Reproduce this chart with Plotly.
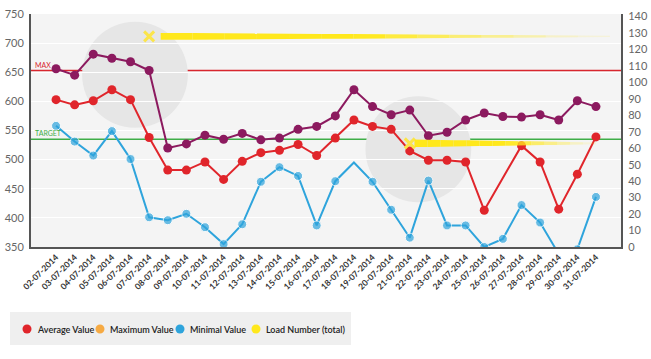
import plotly.graph_objects as go

dates = ["02-07-2014", "03-07-2014", "04-07-2014", "05-07-2014", "06-07-2014", "07-07-2014",
         "08-07-2014", "09-07-2014", "10-07-2014", "11-07-2014", "12-07-2014", "13-07-2014",
         "14-07-2014", "15-07-2014", "16-07-2014", "17-07-2014", "18-07-2014", "19-07-2014",
         "20-07-2014", "21-07-2014", "22-07-2014", "23-07-2014", "24-07-2014", "25-07-2014",
         "26-07-2014", "27-07-2014", "28-07-2014", "29-07-2014", "30-07-2014", "31-07-2014"]

average_value = [603, 594, 601, 620, 603, 538, 482, 482, 496, 466, 497, 512, 516, 526, 507,
                 537, 568, 557, 552, 515, 499, 499, 496, 413, None, 524, 496, 415, 475, 539]

maximum_value = [656, 645, 681, 674, 668, 653, 520, 527, 542, 535, 545, 534, 537, 552, 557,
                 575, 620, 591, 577, 585, 541, 547, 568, 580, 574, 573, 577, 568, 601, 591]

minimal_value = [558, 531, 507, 549, 501, 401, 396, 407, 384, 355, 389, 462, 487, 472, 387,
                 463, 495, 462, 414, 366, 464, 387, 387, 350, 364, 422, 392, 338, 346, 436]

load_number = [None, None, None, None, None, 128, None, None, None, None, None, None, None, None,
               None, None, None, None, None, 63, None, None, None, None, None, None, None, None,
               None, None]

legend_names = ["Average Value", "Maximum Value", "Minimal Value", "Load Number (total)"]

max_level = 653
target_level = 535

left_ticks = list(range(350, 751, 50))
right_ticks = list(range(0, 141, 10))

C_RED = "#e0252b"
C_PURPLE = "#8c1a5f"
C_BLUE = "#2ea4dc"
C_YELLOW = "#ffe81c"
C_ORANGE = "#f6aa43"
FONT = "Lato"

W, H = 651, 359
ML, MR, MT, MB = 31, 30, 14, 112
PW, PH = W - ML - MR, H - MT - MB


def px_x(p):
    return (p - ML) / PW


def px_y(p):
    return (H - MB - p) / PH


x = list(range(len(dates)))

# per-point marker sizes (one point on the blue line is drawn without a dot)
blue_sizes = [9] * len(dates)
blue_sizes[dates.index("18-07-2014")] = 0

fig = go.Figure()

fig.add_trace(go.Scatter(x=x, y=average_value, mode="lines+markers", name=legend_names[0],
                         line=dict(color=C_RED, width=2), marker=dict(size=9, color=C_RED),
                         connectgaps=True))
fig.add_trace(go.Scatter(x=x, y=maximum_value, mode="lines+markers", name=legend_names[1],
                         line=dict(color=C_PURPLE, width=2), marker=dict(size=9, color=C_PURPLE)))
fig.add_trace(go.Scatter(x=x, y=minimal_value, mode="lines+markers", name=legend_names[2],
                         line=dict(color=C_BLUE, width=2), marker=dict(size=blue_sizes, color=C_BLUE)))
fig.add_trace(go.Scatter(x=x, y=load_number, mode="markers", name=legend_names[3], yaxis="y2",
                         marker=dict(symbol="x-thin", size=10, color="#fbe54a",
                                     line=dict(width=3, color="#fbe54a"))))

shapes = []
# decorative highlight circles
for cx, cy in [(4.24, 645.7), (19.46, 517.8)]:
    shapes.append(dict(type="circle", xref="x", yref="y", x0=cx - 2.84, x1=cx + 2.84,
                       y0=cy - 91, y1=cy + 91, fillcolor="#e6e6e6", line=dict(width=0),
                       layer="below"))

# tapering, fading load bars starting at each load marker
N_SEG = 14
for i, v in enumerate(load_number):
    if v is None:
        continue
    if i < 10:
        xs, xe, h0, h1, fade_from = i + 0.62, 29.75, 2.1, 0.4, 0.45
    else:
        xs, xe, h0, h1, fade_from = i + 0.25, 29.0, 2.3, 0.6, 0.5
    for k in range(N_SEG):
        t0, t1 = k / N_SEG, (k + 1) / N_SEG
        a0, a1 = xs + (xe - xs) * t0, xs + (xe - xs) * t1
        w0, w1 = h0 + (h1 - h0) * t0, h0 + (h1 - h0) * t1
        tm = (t0 + t1) / 2
        op = 1.0 if tm < fade_from else max(0.12, 1 - (tm - fade_from) / (1 - fade_from))
        path = f"M {a0},{v + w0} L {a1},{v + w1} L {a1},{v - w1} L {a0},{v - w0} Z"
        shapes.append(dict(type="path", xref="x", yref="y2", path=path, opacity=op,
                           fillcolor=C_YELLOW, line=dict(width=0), layer="above"))

shapes.append(dict(type="line", xref="paper", yref="y", x0=0, x1=1, y0=max_level, y1=max_level,
                   line=dict(color="#d8262e", width=1.5), layer="below"))
shapes.append(dict(type="line", xref="paper", yref="y", x0=0, x1=1, y0=target_level, y1=target_level,
                   line=dict(color="#3fae48", width=1.5), layer="below"))

annotations = [
    dict(text="MAX", xref="paper", yref="y", x=px_x(33), y=max_level, xanchor="left",
         yanchor="bottom", showarrow=False, font=dict(size=7, color="#d8262e", family=FONT)),
    dict(text="TARGET", xref="paper", yref="y", x=px_x(33), y=target_level, xanchor="left",
         yanchor="bottom", showarrow=False, font=dict(size=7, color="#3fae48", family=FONT)),
]

# legend box (drawn below the chart, like the original)
shapes.append(dict(type="rect", xref="paper", yref="paper", x0=px_x(10), x1=px_x(351),
                   y0=px_y(345), y1=px_y(312), fillcolor="#efefef", line=dict(width=0),
                   layer="below"))
legend_colors = [C_RED, C_ORANGE, C_BLUE, C_YELLOW]
legend_dot_px = [27, 100, 180, 256]
for nm, col, dx in zip(legend_names, legend_colors, legend_dot_px):
    shapes.append(dict(type="circle", xref="paper", yref="paper", xsizemode="pixel",
                       ysizemode="pixel", xanchor=px_x(dx), yanchor=px_y(329),
                       x0=-4.5, x1=4.5, y0=-4.5, y1=4.5, fillcolor=col, line=dict(width=0)))
    annotations.append(dict(text=nm, xref="paper", yref="paper", x=px_x(dx + 8), y=px_y(329),
                            xanchor="left", yanchor="middle", showarrow=False,
                            font=dict(size=9, color="#222", family=FONT, weight=600)))

fig.update_layout(
    width=W, height=H,
    margin=dict(l=ML, r=MR, t=MT, b=MB, autoexpand=False),
    paper_bgcolor="white", plot_bgcolor="#f4f4f4",
    font=dict(family=FONT, color="#555"),
    shapes=shapes,
    annotations=annotations,
    showlegend=False,
    xaxis=dict(range=[-1.345, 30.345], tickmode="array", tickvals=x, ticktext=dates,
               tickangle=-45, showgrid=False, zeroline=False, showline=True,
               linecolor="#555", linewidth=2, ticks="", automargin=False,
               tickfont=dict(size=8.5, color="#333", family=FONT, weight="bold")),
    yaxis=dict(range=[350, 750], tickmode="array", tickvals=left_ticks, showgrid=True,
               gridcolor="white", gridwidth=1, zeroline=False, showline=True,
               linecolor="#555", linewidth=2, ticks="", ticklabelstandoff=3, automargin=False,
               tickfont=dict(size=11, color="#666", family=FONT)),
    yaxis2=dict(range=[0, 141.6], tickmode="array", tickvals=right_ticks, overlaying="y",
                side="right", showgrid=False, zeroline=False, showline=True,
                linecolor="#555", linewidth=2, ticks="", ticklabelstandoff=3, automargin=False,
                tickfont=dict(size=11, color="#666", family=FONT)),
)

fig.write_html("out.html", config={"displayModeBar": False},
               post_script="document.body.style.margin='0px';document.body.style.overflow='hidden';")
